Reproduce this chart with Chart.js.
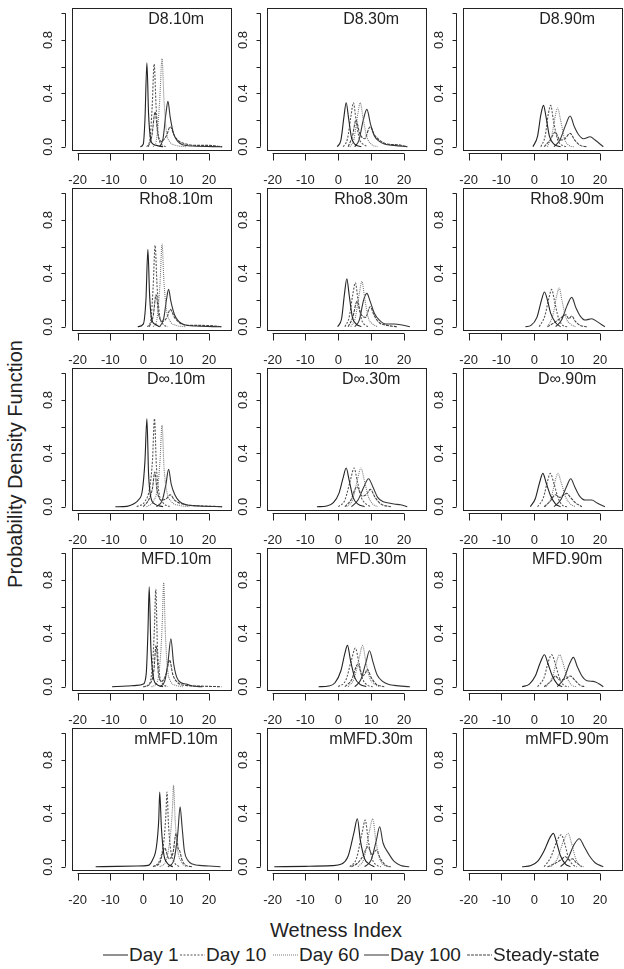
<!DOCTYPE html>
<html>
<head>
<meta charset="utf-8">
<script src="https://cdn.jsdelivr.net/npm/chart.js@4.4.1/dist/chart.umd.min.js"></script>
<style>
    html, body { margin: 0; padding: 0; background: #fff; width: 624px; height: 969px; overflow: hidden; position: relative;
        font-family: "Liberation Sans", Arial, sans-serif; color: #222; }
    canvas { position: absolute; }
    #ylab { position: absolute; left: 15px; top: 464px; transform: translate(-50%, -50%) rotate(-90deg); font-size: 20px; white-space: nowrap; }
    #xlab { position: absolute; left: 336px; top: 930px; transform: translate(-50%, -50%); font-size: 20px; white-space: nowrap; }
    .item { position: absolute; top: 944px; height: 22px; display: flex; align-items: center; font-size: 19px; white-space: nowrap; }
    .item svg { margin-right: 1px; }
</style>
</head>
<body>
<div id="ylab">Probability Density Function</div>
<div id="xlab">Wetness Index</div>
<div id="legend"></div>
<script>
// series names, in legend order
const seriesNames = ['Day 1', 'Day 10', 'Day 60', 'Day 100', 'Steady-state'];
const xTicks = [-20, -10, 0, 10, 20];
const yTicks = [0, 0.2, 0.4, 0.6, 0.8, 1.0];
const yLabels = [0, 0.4, 0.8];

// each panel: [Day 1, Day 10, Day 60, Day 100, Steady-state], points are [wetness index, density]
const D8_10m = [
    [[-0.9,0],[0,0.02],[0.5,0.2],[1.1,0.63],[1.6,0.25],[2.2,0.06],[3,0.02],[4,0.01],[6,0]],
    [[1,0],[2,0.05],[2.7,0.3],[3.3,0.62],[3.9,0.3],[4.6,0.08],[5.5,0.02],[7,0]],
    [[3,0],[4,0.05],[5,0.35],[5.7,0.66],[6.3,0.35],[7,0.12],[8,0.04],[10,0.01],[13,0]],
    [[5,0],[6,0.06],[6.9,0.25],[7.5,0.34],[8.2,0.22],[9.2,0.1],[10.5,0.04],[12,0.015],[15,0.005],[24,0]],
    [[1.5,0],[2.6,0.08],[3.6,0.26],[4.4,0.1],[5.4,0.04],[7,0.08],[8.2,0.15],[9.5,0.08],[11,0.04],[13,0.02],[16,0.01],[20,0.01],[24,0]]
];
const D8_30m = [
    [[-0.3,0],[0.8,0.05],[1.7,0.22],[2.4,0.33],[3.1,0.22],[4,0.07],[5,0.02],[7,0]],
    [[1.5,0],[2.8,0.06],[3.8,0.22],[4.6,0.33],[5.4,0.2],[6.4,0.06],[7.5,0.02],[9,0]],
    [[3.5,0],[4.8,0.06],[5.9,0.24],[6.7,0.33],[7.5,0.22],[8.6,0.08],[10,0.02],[12,0]],
    [[5,0],[6.3,0.05],[7.6,0.2],[8.7,0.28],[9.8,0.17],[11,0.08],[12.5,0.04],[14,0.02],[17,0.01],[21,0]],
    [[3,0],[4.3,0.08],[5.4,0.2],[6.5,0.1],[8,0.06],[9.7,0.15],[11,0.09],[12.5,0.05],[15,0.02],[18,0.015],[21,0]]
];
const D8_90m = [
    [[-0.4,0],[1,0.08],[2,0.24],[2.8,0.31],[3.6,0.22],[4.6,0.08],[6,0.02],[8,0]],
    [[2,0],[3.3,0.08],[4.3,0.25],[5,0.31],[5.8,0.2],[7,0.06],[8.5,0.01],[10,0]],
    [[4,0],[5.3,0.08],[6.3,0.22],[7.1,0.29],[8,0.2],[9.2,0.06],[10.5,0.01],[12,0]],
    [[6,0],[7.8,0.05],[9.5,0.16],[10.9,0.23],[12.2,0.15],[13.5,0.09],[15,0.06],[17,0.075],[18.5,0.05],[21,0]],
    [[3,0],[4.8,0.05],[6.4,0.11],[7.8,0.05],[9.3,0.06],[10.9,0.1],[12.3,0.05],[14,0.01],[16,0]]
];
const Rho8_10m = [
    [[-1.7,0],[0,0.02],[0.8,0.2],[1.4,0.58],[1.9,0.25],[2.5,0.06],[3.5,0.02],[5,0]],
    [[1.2,0],[2.3,0.05],[3,0.3],[3.6,0.61],[4.2,0.3],[5,0.08],[6,0.02],[7.5,0]],
    [[3,0],[4.1,0.05],[5.1,0.33],[5.7,0.62],[6.3,0.33],[7.1,0.12],[8.2,0.04],[10,0.01],[13,0]],
    [[5,0],[6.2,0.06],[7.1,0.21],[7.7,0.28],[8.4,0.19],[9.5,0.09],[10.8,0.04],[12.5,0.015],[16,0.005],[23.8,0]],
    [[1.8,0],[3,0.08],[3.9,0.24],[4.7,0.09],[5.8,0.04],[7.2,0.07],[8.2,0.13],[9.5,0.07],[11,0.03],[14,0.01],[18,0.01],[22,0.005],[23.8,0]]
];
const Rho8_30m = [
    [[-0.2,0],[1,0.06],[1.9,0.25],[2.6,0.36],[3.3,0.24],[4.3,0.07],[5.5,0.02],[7,0]],
    [[2,0],[3.3,0.07],[4.4,0.24],[5.2,0.33],[6,0.2],[7,0.06],[8.3,0.01],[9.5,0]],
    [[3.8,0],[5.2,0.07],[6.4,0.25],[7.2,0.34],[8,0.22],[9.1,0.07],[10.5,0.02],[12,0]],
    [[5,0],[6.4,0.05],[7.7,0.2],[8.7,0.25],[9.7,0.19],[11,0.1],[12.5,0.05],[14.5,0.02],[17,0.02],[19,0.015],[21.8,0]],
    [[3,0],[4.4,0.07],[5.7,0.19],[6.8,0.1],[8.3,0.07],[9.7,0.15],[11,0.08],[12.5,0.03],[15,0.01],[18,0]]
];
const Rho8_90m = [
    [[-2.7,0],[-1,0.01],[0.8,0.07],[2.2,0.2],[3.1,0.26],[4,0.2],[5,0.1],[6.5,0.03],[8,0]],
    [[1.5,0],[3.2,0.08],[4.5,0.22],[5.3,0.28],[6.1,0.2],[7.3,0.07],[8.7,0.01],[10,0]],
    [[4,0],[5.6,0.08],[6.8,0.23],[7.6,0.29],[8.4,0.2],[9.6,0.07],[11,0.02],[12.5,0]],
    [[6.5,0],[8.3,0.05],[10,0.16],[11.4,0.22],[12.7,0.14],[14,0.08],[15.5,0.05],[17.5,0.06],[19,0.04],[21.5,0]],
    [[4,0],[6,0.03],[7.8,0.06],[9.6,0.09],[10.5,0.06],[11.4,0.08],[12.5,0.04],[14,0.01],[16,0]]
];
const Dinf_10m = [
    [[-8.5,0],[-5,0.003],[-3,0.02],[-1.5,0.05],[-0.3,0.12],[0.5,0.34],[1.1,0.66],[1.6,0.25],[2.3,0.07],[3.5,0.02],[6,0]],
    [[-2,0],[0.5,0.04],[2,0.15],[2.8,0.35],[3.4,0.66],[4,0.3],[4.8,0.1],[6,0.03],[8,0]],
    [[1,0],[3,0.04],[4.4,0.15],[5.1,0.35],[5.7,0.61],[6.3,0.3],[7.1,0.12],[8.5,0.04],[11,0.01],[14,0]],
    [[4,0],[5.8,0.05],[6.9,0.17],[7.7,0.28],[8.5,0.17],[9.6,0.09],[11,0.04],[13,0.015],[17,0.005],[24,0]],
    [[0,0],[1.8,0.06],[2.8,0.14],[3.5,0.26],[4.2,0.12],[5.5,0.05],[7,0.06],[8.2,0.09],[9.5,0.05],[12,0.02],[16,0.008],[20,0.005],[24,0]]
];
const Dinf_30m = [
    [[-6.5,0],[-3.5,0.005],[-1.5,0.03],[0.2,0.1],[1.5,0.22],[2.4,0.29],[3.3,0.2],[4.5,0.07],[6,0.02],[8,0]],
    [[0,0],[2,0.05],[3.7,0.2],[4.8,0.29],[5.8,0.19],[7,0.07],[8.5,0.02],[10,0]],
    [[2.5,0],[4.3,0.05],[5.9,0.21],[6.9,0.29],[7.9,0.2],[9.1,0.08],[10.5,0.02],[12,0]],
    [[4,0],[6,0.05],[7.8,0.15],[9.2,0.21],[10.5,0.15],[12,0.07],[13.5,0.04],[15,0.03],[17,0.02],[19,0.015],[21,0]],
    [[2,0],[3.8,0.05],[5.7,0.15],[7.2,0.08],[8.5,0.09],[9.8,0.13],[11.2,0.07],[13,0.02],[16,0]]
];
const Dinf_90m = [
    [[-1.2,0],[0.3,0.06],[1.6,0.18],[2.6,0.25],[3.6,0.18],[5,0.08],[6.5,0.02],[8,0]],
    [[1,0],[2.8,0.07],[4,0.19],[4.9,0.25],[5.9,0.18],[7.2,0.07],[8.6,0.01],[10,0]],
    [[3.3,0],[5.2,0.07],[6.3,0.19],[7.2,0.25],[8.2,0.18],[9.6,0.07],[11,0.02],[12.5,0]],
    [[6,0],[8,0.05],[9.8,0.15],[11.1,0.21],[12.3,0.15],[13.8,0.08],[15.5,0.05],[17.5,0.05],[19,0.03],[21.5,0]],
    [[3,0],[4.8,0.04],[6.4,0.09],[7.8,0.07],[9,0.09],[9.9,0.1],[11,0.07],[12.5,0.03],[14.5,0]]
];
const MFD_10m = [
    [[-9.5,0],[-5,0.005],[-2,0.01],[0,0.02],[0.9,0.1],[1.4,0.4],[1.8,0.75],[2.3,0.3],[3,0.08],[4,0.02],[6,0]],
    [[0,0],[2,0.03],[2.9,0.2],[3.4,0.45],[3.8,0.73],[4.3,0.3],[5,0.08],[6,0.02],[7.5,0]],
    [[2.5,0],[4.3,0.04],[5.3,0.25],[5.8,0.5],[6.2,0.78],[6.7,0.41],[7.3,0.15],[8.3,0.04],[10,0.01],[12,0]],
    [[5,0],[6.5,0.04],[7.5,0.18],[8.4,0.36],[9.2,0.18],[10.2,0.07],[11.5,0.03],[13,0.02],[15,0.005],[18,0]],
    [[0,0],[2,0.02],[3.2,0.12],[3.9,0.31],[4.6,0.1],[5.6,0.04],[7,0.1],[8,0.2],[9,0.09],[10.5,0.03],[13,0.01],[17,0.005],[23.8,0]]
];
const MFD_30m = [
    [[-6,0],[-3,0.005],[-1,0.03],[0.8,0.12],[2,0.25],[2.8,0.31],[3.7,0.2],[5,0.07],[6.5,0.02],[8.5,0]],
    [[0,0],[2.3,0.05],[4,0.2],[5.2,0.29],[6.2,0.19],[7.4,0.06],[9,0.01],[10.5,0]],
    [[3,0],[4.8,0.06],[6.4,0.22],[7.4,0.31],[8.3,0.2],[9.5,0.07],[11,0.02],[12.5,0]],
    [[5,0],[6.8,0.05],[8.5,0.19],[9.5,0.27],[10.5,0.19],[11.8,0.09],[13.5,0.04],[15,0.02],[17,0.01],[21.8,0]],
    [[2,0],[4,0.05],[6,0.17],[7.3,0.08],[8.2,0.1],[8.8,0.13],[10,0.07],[11.5,0.02],[14,0]]
];
const MFD_90m = [
    [[-3.7,0],[-1.5,0.02],[0.3,0.08],[1.8,0.18],[3.1,0.24],[4.2,0.17],[5.5,0.08],[7,0.02],[8.5,0]],
    [[1,0],[3,0.07],[4.3,0.19],[5.3,0.24],[6.3,0.18],[7.6,0.07],[9,0.01],[10.5,0]],
    [[3.5,0],[5.5,0.07],[6.8,0.19],[7.7,0.24],[8.7,0.18],[10,0.07],[11.5,0.01],[13,0]],
    [[7,0],[9,0.06],[10.7,0.17],[11.9,0.22],[13.1,0.15],[14.5,0.08],[16,0.045],[18,0.04],[19.5,0.025],[21,0]],
    [[3,0],[5,0.04],[6.4,0.08],[7.8,0.05],[9.5,0.06],[11,0.08],[12.3,0.05],[14,0.01],[15.5,0]]
];
const mMFD_10m = [
    [[-14.5,0],[-8,0.003],[-2,0.005],[1.5,0.01],[2.8,0.05],[4,0.15],[4.7,0.35],[5,0.56],[5.5,0.3],[6.2,0.1],[7.2,0.03],[9,0]],
    [[3,0],[5,0.05],[6.3,0.2],[6.9,0.4],[7.2,0.56],[7.7,0.3],[8.5,0.1],[9.5,0.03],[11,0]],
    [[5,0],[7,0.05],[8.3,0.25],[8.9,0.45],[9.2,0.61],[9.7,0.35],[10.5,0.12],[11.5,0.04],[13,0]],
    [[7.5,0],[9.3,0.05],[10.5,0.25],[11.2,0.45],[11.8,0.3],[12.5,0.12],[13.5,0.05],[15,0.02],[17,0.01],[20,0.005],[23.5,0]],
    [[3,0],[5,0.03],[6.5,0.14],[7.8,0.06],[9,0.1],[10,0.25],[10.6,0.14],[11,0.125],[11.8,0.05],[13,0.01],[15,0]]
];
const mMFD_30m = [
    [[-19.5,0],[-10,0.003],[-2,0.008],[1,0.02],[3,0.08],[4.8,0.26],[5.8,0.36],[6.7,0.2],[8,0.06],[9.5,0.02],[11,0]],
    [[3.5,0],[5.5,0.06],[7.3,0.26],[8.2,0.35],[9.1,0.2],[10.3,0.06],[11.8,0.01],[13,0]],
    [[6,0],[7.8,0.06],[9.5,0.27],[10.5,0.36],[11.4,0.2],[12.6,0.06],[14,0.01],[15.5,0]],
    [[8,0],[10,0.05],[11.6,0.2],[12.6,0.3],[13.6,0.18],[15.3,0.1],[17,0.04],[19,0.01],[21.6,0]],
    [[4,0],[6,0.03],[7.5,0.08],[9,0.15],[10.3,0.09],[11.6,0.125],[12.8,0.06],[14.5,0.01],[16,0]]
];
const mMFD_90m = [
    [[-3.7,0],[-1,0.01],[1,0.04],[3,0.12],[4.8,0.22],[5.8,0.25],[6.8,0.18],[8,0.08],[9.5,0.02],[11,0]],
    [[3,0],[5,0.07],[7,0.2],[8.2,0.24],[9.3,0.17],[10.5,0.06],[12,0.01],[13,0]],
    [[5,0],[7,0.06],[9,0.2],[10.3,0.25],[11.3,0.18],[12.5,0.07],[13.8,0.01],[15,0]],
    [[8,0],[10,0.05],[12.2,0.17],[13.7,0.21],[15.2,0.15],[16.8,0.08],[18.5,0.03],[21,0]],
    [[4,0],[6,0.02],[8,0.05],[9.5,0.075],[10.7,0.05],[11.6,0.06],[12.8,0.03],[14.5,0]]
];

const panelTitles = ['D8.10m', 'D8.30m', 'D8.90m', 'Rho8.10m', 'Rho8.30m', 'Rho8.90m',
    'D\u221e.10m', 'D\u221e.30m', 'D\u221e.90m', 'MFD.10m', 'MFD.30m', 'MFD.90m',
    'mMFD.10m', 'mMFD.30m', 'mMFD.90m'];
const panelData = [D8_10m, D8_30m, D8_90m, Rho8_10m, Rho8_30m, Rho8_90m,
    Dinf_10m, Dinf_30m, Dinf_90m, MFD_10m, MFD_30m, MFD_90m, mMFD_10m, mMFD_30m, mMFD_90m];

// line looks for the five series
const lineColors = ['#222', '#555', '#7a7a7a', '#333', '#444'];
const lineDashes = [[], [2, 1.5], [1, 1], [], [3, 1]];

// page layout (box positions of the panels)
const colLeft = [72, 267, 463];
const rowTop = [8, 188, 368, 548, 728];
const FONT = '"Liberation Sans", Arial, sans-serif';

// R-style axes, box and panel title
const rAxes = {
    id: 'rAxes',
    afterDraw(chart, args, opts) {
        const { ctx, chartArea: a } = chart;
        const x = chart.scales.x, y = chart.scales.y;
        ctx.save();
        ctx.strokeStyle = '#222';
        ctx.lineWidth = 1;
        ctx.strokeRect(a.left + 0.5, a.top + 0.5, a.right - a.left - 1, a.bottom - a.top - 1);

        ctx.beginPath();
        const ax = Math.round(a.left - 7) + 0.5;
        ctx.moveTo(ax, y.getPixelForValue(yTicks[0]));
        ctx.lineTo(ax, y.getPixelForValue(yTicks[yTicks.length - 1]));
        yTicks.forEach(v => {
            const py = Math.round(y.getPixelForValue(v)) + 0.5;
            ctx.moveTo(ax - 4, py);
            ctx.lineTo(ax, py);
        });
        const ay = Math.round(a.bottom + 2) + 0.5;
        ctx.moveTo(x.getPixelForValue(xTicks[0]), ay);
        ctx.lineTo(x.getPixelForValue(xTicks[xTicks.length - 1]), ay);
        xTicks.forEach(v => {
            const px = Math.round(x.getPixelForValue(v)) + 0.5;
            ctx.moveTo(px, ay);
            ctx.lineTo(px, ay + 7);
        });
        ctx.stroke();

        ctx.fillStyle = '#222';
        ctx.textAlign = 'center';
        ctx.textBaseline = 'middle';
        ctx.font = '13px ' + FONT;
        xTicks.forEach(v => ctx.fillText(String(v), x.getPixelForValue(v), a.bottom + 29));
        yLabels.forEach(v => {
            ctx.save();
            ctx.translate(ax - 17, y.getPixelForValue(v));
            ctx.rotate(-Math.PI / 2);
            ctx.fillText(v.toFixed(1), 0, 0);
            ctx.restore();
        });

        ctx.font = '16px ' + FONT;
        ctx.fillText(opts.title, x.getPixelForValue(10), y.getPixelForValue(0.95));
        ctx.restore();
    }
};

panelTitles.forEach((title, i) => {
    const row = Math.floor(i / 3), col = i % 3;
    const canvas = document.createElement('canvas');
    canvas.width = 202;
    canvas.height = 185;
    canvas.style.left = (colLeft[col] - 40) + 'px';
    canvas.style.top = (rowTop[row] - 8) + 'px';
    document.body.appendChild(canvas);

    new Chart(canvas.getContext('2d'), {
        type: 'line',
        data: {
            datasets: panelData[i].map((pts, k) => ({
                label: seriesNames[k],
                data: pts.map(p => ({ x: p[0], y: p[1] })),
                borderColor: lineColors[k],
                borderDash: lineDashes[k],
                borderWidth: 1.1,
                pointRadius: 0,
                fill: false,
                cubicInterpolationMode: 'monotone'
            }))
        },
        options: {
            responsive: false,
            animation: false,
            devicePixelRatio: 1,
            events: [],
            layout: { padding: { left: 40, top: 8, right: 2, bottom: 34 } },
            scales: {
                x: { type: 'linear', min: -21.7, max: 27.0, display: false },
                y: { type: 'linear', min: -0.032, max: 1.04, display: false }
            },
            plugins: {
                legend: { display: false },
                tooltip: { enabled: false },
                rAxes: { title: title }
            }
        },
        plugins: [rAxes]
    });
});

// legend along the bottom
const legendLeft = [103, 180, 273, 364, 467];
seriesNames.forEach((name, k) => {
    const item = document.createElement('div');
    item.className = 'item';
    item.style.left = legendLeft[k] + 'px';
    const dash = lineDashes[k].length ? lineDashes[k].join(',') : 'none';
    item.innerHTML = '<svg width="25" height="4"><line x1="0" y1="2" x2="25" y2="2" stroke="' + lineColors[k] +
        '" stroke-width="1" stroke-dasharray="' + dash + '"/></svg><span>' + name + '</span>';
    document.body.appendChild(item);
});
</script>
</body>
</html>
